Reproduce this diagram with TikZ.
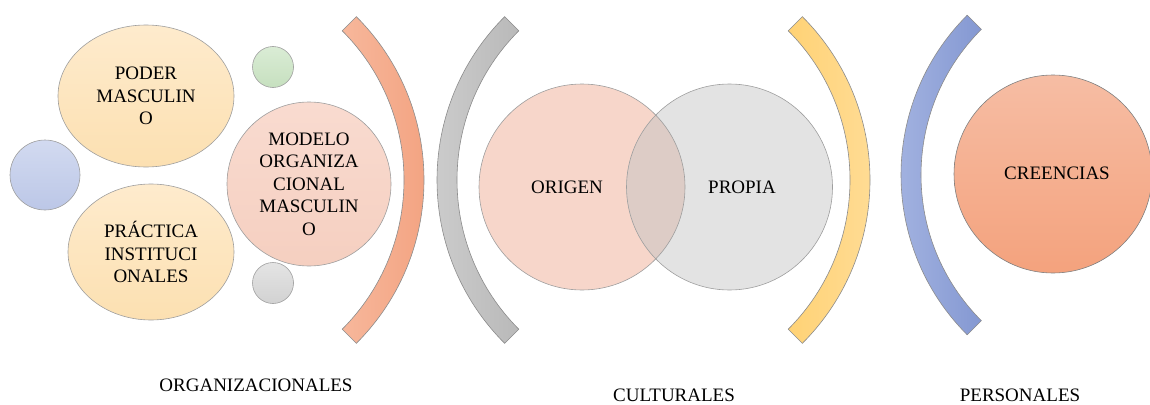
\documentclass[tikz,border=0pt]{standalone}
\usepackage{fontspec}
\setmainfont{Liberation Serif}
\usetikzlibrary{shapes.geometric,calc}
\definecolor{poderTop}{HTML}{FEEBCD}
\definecolor{poderBot}{HTML}{FCE0B1}
\definecolor{blueTop}{HTML}{D2DAF0}
\definecolor{blueBot}{HTML}{BCC7E7}
\definecolor{greenTop}{HTML}{DAECD5}
\definecolor{greenBot}{HTML}{C6E0BF}
\definecolor{graysTop}{HTML}{E4E4E4}
\definecolor{graysBot}{HTML}{D2D2D2}
\definecolor{modTop}{HTML}{F9DBD0}
\definecolor{modBot}{HTML}{F5CFC0}
\definecolor{orL}{HTML}{F7B79B}
\definecolor{orR}{HTML}{F29F7C}
\definecolor{grL}{HTML}{D0D0D0}
\definecolor{grR}{HTML}{B9B9B9}
\definecolor{yeL}{HTML}{FFD275}
\definecolor{yeR}{HTML}{FFDE9C}
\definecolor{blL}{HTML}{A9B8E3}
\definecolor{blR}{HTML}{8498D2}
\definecolor{origenC}{HTML}{F7D6CA}
\definecolor{propiaC}{HTML}{E3E3E3}
\definecolor{overlapC}{HTML}{DDCCC6}
\definecolor{creTop}{HTML}{F6BDA4}
\definecolor{creBot}{HTML}{F4A27D}
\begin{document}
\begin{tikzpicture}[x=1pt,y=-1pt,
  font=\fontsize{19}{22.5}\selectfont,
  outline/.style={draw=black!38, line width=0.6pt},
  blob/.style={outline, inner sep=0pt, align=center},
  band/.style={draw=black!45, line width=0.6pt},
  caption/.style={inner sep=0pt}]
\useasboundingbox (0,0) rectangle (1150,404);

% ---- ORGANIZACIONALES group ----
\node[blob, ellipse, minimum width=176, minimum height=142,
  top color=poderTop, bottom color=poderBot] (poder) at (146,96) {PODER\\MASCULIN\\O};
\node[blob, circle, minimum size=70, top color=blueTop, bottom color=blueBot] (azul) at (45,175) {};
\node[blob, ellipse, minimum width=166, minimum height=136,
  top color=poderTop, bottom color=poderBot] (practica) at (151,252) {PRÁCTICA\\INSTITUCI\\ONALES};
\node[blob, circle, minimum size=41, top color=greenTop, bottom color=greenBot] (verde) at (273,67) {};
\node[blob, circle, minimum size=41, top color=graysTop, bottom color=graysBot] (gris) at (273,283) {};
\node[blob, circle, minimum size=164, top color=modTop, bottom color=modBot] (modelo) at (309,184) {MODELO\\ORGANIZA\\CIONAL\\MASCULIN\\O};

% ---- bracket arcs ----
\shadedraw[band, left color=orL, right color=orR]
  ($(193,180)+(-45:231)$) arc[start angle=-45, end angle=45, radius=231]
  -- ($(193,180)+(45:211)$) arc[start angle=45, end angle=-45, radius=211] -- cycle;
\shadedraw[band, left color=grL, right color=grR]
  ($(668,180)+(135:231)$) arc[start angle=135, end angle=225, radius=231]
  -- ($(668,180)+(225:211)$) arc[start angle=225, end angle=135, radius=211] -- cycle;
\shadedraw[band, left color=yeL, right color=yeR]
  ($(639,180)+(-45:231)$) arc[start angle=-45, end angle=45, radius=231]
  -- ($(639,180)+(45:211)$) arc[start angle=45, end angle=-45, radius=211] -- cycle;
\shadedraw[band, left color=blL, right color=blR]
  ($(1127,175)+(135:226)$) arc[start angle=135, end angle=225, radius=226]
  -- ($(1127,175)+(225:206)$) arc[start angle=225, end angle=135, radius=206] -- cycle;

% ---- CULTURALES venn ----
\node[circle, inner sep=0pt, minimum size=206, fill=origenC] (origen) at (582,187) {};
\node[circle, inner sep=0pt, minimum size=206, fill=propiaC] (propia) at (729.5,187) {};
\begin{scope}
  \clip (582,187) circle[radius=103];
  \fill[overlapC] (729.5,187) circle[radius=103];
\end{scope}
\draw[outline] (origen.center) circle[radius=103];
\draw[outline] (propia.center) circle[radius=103];
\node[caption] (torigen) at (567,187) {ORIGEN};
\node[caption] (tpropia) at (742,187) {PROPIA};

% ---- PERSONALES ----
\node[blob, circle, minimum size=198, top color=creTop, bottom color=creBot, draw=black!50] (creencias) at (1053,174) {};
\node[caption] (tcreencias) at (1057,173) {CREENCIAS};

% ---- captions ----
\node[caption] (corg) at (256,385) {ORGANIZACIONALES};
\node[caption] (ccul) at (674,395) {CULTURALES};
\node[caption] (cper) at (1020,395) {PERSONALES};
\end{tikzpicture}
\end{document}
